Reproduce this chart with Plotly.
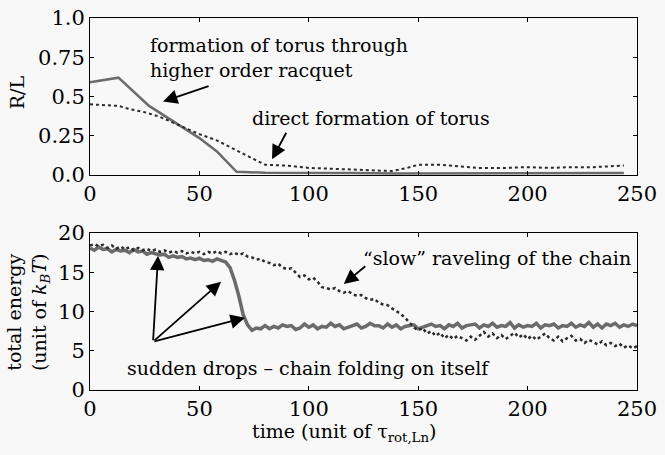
import plotly.graph_objects as go

# top panel: R/L vs time
t_rl_solid = [0, 13, 27, 37, 50, 58, 67, 80, 100, 120, 140, 150, 170, 190, 210, 230, 244]
rl_solid = [0.59, 0.62, 0.44, 0.35, 0.235, 0.15, 0.02, 0.015, 0.015, 0.013, 0.01, 0.01, 0.012,
            0.012, 0.01, 0.012, 0.012]

t_rl_dot = [0, 13, 18, 25, 32, 37, 50, 58, 65, 72, 80, 90, 100, 110, 120, 130, 138, 145, 150,
            160, 170, 177, 190, 200, 210, 220, 230, 244]
rl_dot = [0.45, 0.44, 0.42, 0.40, 0.37, 0.34, 0.26, 0.22, 0.17, 0.12, 0.065, 0.06, 0.045, 0.04,
          0.035, 0.03, 0.025, 0.045, 0.065, 0.065, 0.055, 0.045, 0.045, 0.05, 0.045, 0.05, 0.05,
          0.06]

# bottom panel: total energy vs time (sampled every 2 time units)
t_energy = list(range(0, 251, 2))
energy_sudden = [
    18.1, 17.8, 18.2, 17.9, 18.0, 17.6, 17.9, 17.7, 17.8, 17.5,
    17.9, 17.6, 17.7, 17.3, 17.5, 17.4, 17.2, 17.3, 16.9, 17.1,
    16.9, 17.0, 16.7, 16.8, 16.6, 16.8, 16.5, 16.6, 16.4, 16.7,
    16.5, 16.3, 15.6, 14.0, 12.0, 9.6, 8.3, 7.6, 7.9, 7.8,
    8.2, 7.8, 8.1, 7.9, 8.3, 8.1, 8.2, 7.7, 7.9, 8.4,
    8.0, 8.3, 7.8, 8.1, 8.0, 8.5, 8.1, 8.3, 7.8, 8.0,
    8.2, 8.4, 7.9, 8.1, 8.5, 8.2, 8.2, 7.9, 8.4, 8.0,
    8.3, 7.8, 8.1, 8.2, 8.3, 7.8, 8.0, 8.2, 8.4, 8.1,
    8.2, 7.8, 8.3, 8.1, 8.5, 7.9, 8.2, 8.3, 8.4, 7.9,
    8.3, 8.1, 8.5, 8.0, 8.2, 8.1, 8.6, 7.9, 8.3, 8.0,
    8.2, 8.1, 8.5, 7.9, 8.3, 8.2, 8.4, 7.9, 8.2, 8.1,
    8.5, 8.0, 8.3, 8.1, 8.6, 8.0, 8.4, 7.9, 8.4, 8.2,
    8.5, 8.0, 8.3, 8.1, 8.4, 8.2,
]
energy_slow = [
    18.4, 18.6, 18.3, 18.5, 18.1, 18.4, 18.0, 18.3, 17.9, 18.2,
    17.8, 18.1, 17.8, 18.0, 17.7, 17.9, 17.6, 17.8, 17.5, 17.7,
    17.5, 17.7, 17.4, 17.6, 17.4, 17.6, 17.3, 17.6, 17.4, 17.7,
    17.4, 17.6, 17.3, 17.5, 17.2, 17.4, 17.0, 16.9, 16.6, 16.7,
    16.3, 16.2, 15.9, 16.1, 15.6, 15.4, 15.5, 15.0, 14.4, 14.6,
    14.1, 14.3, 13.8, 13.1, 13.0, 12.8, 13.0, 12.6, 12.4, 12.6,
    12.2, 12.0, 12.1, 11.7, 11.5, 11.6, 11.1, 10.9, 10.8, 10.4,
    10.1, 9.7, 9.2, 8.6, 8.0, 7.6, 7.9, 7.2, 7.5, 6.9,
    7.3, 6.6, 7.0, 6.5, 6.9, 6.6, 6.3, 6.8, 6.4, 6.9,
    7.4, 6.8, 7.2, 6.6, 7.0, 6.5, 6.9, 7.3, 6.7, 7.1,
    6.5, 6.9, 6.4, 6.8, 7.2, 6.6, 6.3, 6.8, 6.2, 6.6,
    6.9, 6.3, 6.5, 6.0, 6.4, 6.1, 5.8, 6.2, 5.7, 6.0,
    5.6, 5.9, 5.4, 5.7, 5.3, 5.6,
]

x_ticks = [0, 50, 100, 150, 200, 250]
rl_ticks = [0, 0.25, 0.5, 0.75, 1.0]
rl_tick_text = ["0.0", "0.25", "0.5", "0.75", "1.0"]
e_ticks = [0, 5, 10, 15, 20]

FONT = "DejaVu Serif"
BG = "#f8f8f8"
SOLID = "#6b6b6b"
DOT = "#2b2b2b"

fig = go.Figure()
fig.add_trace(go.Scatter(x=t_rl_solid, y=rl_solid, mode="lines",
                         line=dict(color=SOLID, width=2.5), xaxis="x", yaxis="y"))
fig.add_trace(go.Scatter(x=t_rl_dot, y=rl_dot, mode="lines",
                         line=dict(color=DOT, width=2, dash="dot"), xaxis="x", yaxis="y"))
fig.add_trace(go.Scatter(x=t_energy, y=energy_sudden, mode="lines",
                         line=dict(color=SOLID, width=3.5), xaxis="x2", yaxis="y2"))
fig.add_trace(go.Scatter(x=t_energy, y=energy_slow, mode="lines",
                         line=dict(color=DOT, width=2.5, dash="dot"), xaxis="x2", yaxis="y2"))

axis_style = dict(showline=True, linecolor="black", linewidth=1, mirror="ticks",
                  ticks="inside", ticklen=4, tickcolor="black", showgrid=False,
                  zeroline=False, automargin=False,
                  tickfont=dict(family=FONT, size=21, color="black"))

fig.update_layout(
    width=665, height=455,
    margin=dict(l=90, r=28, t=18, b=65),
    paper_bgcolor=BG, plot_bgcolor=BG,
    showlegend=False,
    xaxis=dict(domain=[0, 1], anchor="y", range=[0, 250], tickvals=x_ticks, **axis_style),
    yaxis=dict(domain=[0.578, 1], anchor="x", range=[0, 1], tickvals=rl_ticks,
               ticktext=rl_tick_text, **axis_style),
    xaxis2=dict(domain=[0, 1], anchor="y2", range=[0, 250], tickvals=x_ticks, **axis_style),
    yaxis2=dict(domain=[0, 0.422], anchor="x2", range=[0, 20], tickvals=e_ticks, **axis_style),
)

txt = dict(family=FONT, size=19, color="black")
arrow = dict(showarrow=True, arrowhead=2, arrowsize=1.6, arrowwidth=1.8, arrowcolor="black")

annotations = [
    # text labels
    dict(x=26.5, y=0.75, xref="x", yref="y", text="formation of torus through<br>higher order racquet",
         showarrow=False, xanchor="left", yanchor="middle", align="left", font=txt),
    dict(x=73, y=0.365, xref="x", yref="y", text="direct formation of torus",
         showarrow=False, xanchor="left", yanchor="middle", font=txt),
    dict(x=248, y=16.8, xref="x2", yref="y2", text="\u201cslow\u201d raveling of the chain",
         showarrow=False, xanchor="right", yanchor="middle", font=txt),
    dict(x=16, y=2.8, xref="x2", yref="y2", text="sudden drops \u2013 chain folding on itself",
         showarrow=False, xanchor="left", yanchor="middle", font=txt),
    # arrows
    dict(x=33.4, y=0.468, xref="x", yref="y", ax=47, ay=-16, text="", **arrow),
    dict(x=83.2, y=0.10, xref="x", yref="y", ax=15, ay=-28, text="", **arrow),
    dict(x=116, y=13.5, xref="x2", yref="y2", ax=23, ay=-19, text="", **arrow),
    dict(x=31.1, y=17.1, xref="x2", yref="y2", ax=-5, ay=86, text="", **arrow),
    dict(x=59.9, y=13.8, xref="x2", yref="y2", ax=-68, ay=60, text="", **arrow),
    dict(x=70.8, y=9.2, xref="x2", yref="y2", ax=-92, ay=24, text="", **arrow),
    # axis titles
    dict(x=-0.132, y=0.80, xref="paper", yref="paper", text="R/L", textangle=-90,
         showarrow=False, xanchor="center", yanchor="middle", font=txt),
    dict(x=-0.113, y=0.21, xref="paper", yref="paper",
         text="total energy<br>(unit of <i>k<sub>B</sub>T</i>)", textangle=-90,
         showarrow=False, xanchor="center", yanchor="middle", font=txt),
    dict(x=0.465, y=-0.074, xref="paper", yref="paper",
         text="time (unit of \u03c4<sub>rot,Ln</sub>)",
         showarrow=False, xanchor="center", yanchor="top", font=txt),
]
fig.update_layout(annotations=annotations)

# drop the browser's default body margin so the figure sits at the page corner
fig.write_html("out.html", config={"displayModeBar": False},
               post_script="document.body.style.margin='0px';")
